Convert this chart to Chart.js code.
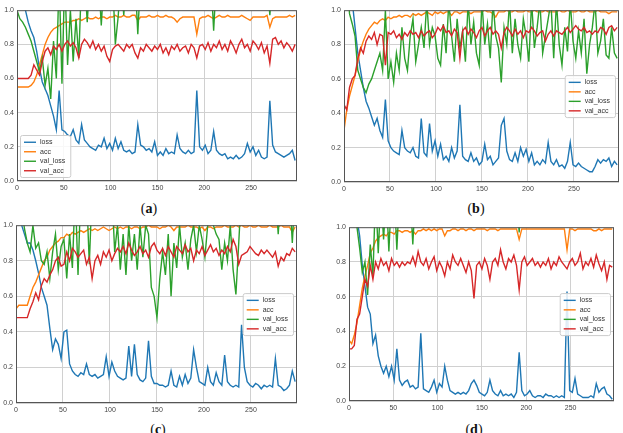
<!DOCTYPE html>
<html>
<head>
<meta charset="utf-8">
<script src="https://cdn.jsdelivr.net/npm/chart.js@4"></script>
<style>
  html, body { margin:0; padding:0; background:#fff; }
  body { width:623px; height:433px; position:relative; overflow:hidden; }
  canvas { position:absolute; }
  .cap { position:absolute; font-family:"Liberation Serif", serif; font-size:14px; color:#111; transform:translate(-50%,-50%); white-space:nowrap; }
</style>
</head>
<body>
<canvas id="pa"></canvas>
<canvas id="pb"></canvas>
<canvas id="pc"></canvas>
<canvas id="pd"></canvas>
<div class="cap" style="left:149px;top:209px">(<b>a</b>)</div>
<div class="cap" style="left:476px;top:209px">(<b>b</b>)</div>
<div class="cap" style="left:158px;top:430px">(<b>c</b>)</div>
<div class="cap" style="left:474px;top:430px">(<b>d</b>)</div>
<script>
// one sample every 3 epochs, 0..297
const EPOCHS = Array.from({ length: 100 }, (_, i) => i * 3)
const SERIES = ['loss', 'acc', 'val_loss', 'val_acc']
const COLORS = ['#1f77b4', '#ff7f0e', '#2ca02c', '#d62728']
const Y_TICKS = [0, 0.2, 0.4, 0.6, 0.8, 1.0]
const X_TICKS = [0, 50, 100, 150, 200, 250]

// (a)
const A_LOSS = [1.1, 1.08, 1.05, 1.0, 0.93, 0.88, 0.84, 0.76, 0.66, 0.58,
  0.54, 0.5, 0.44, 0.38, 0.3, 0.53, 0.3, 0.29, 0.27, 0.26,
  0.3, 0.24, 0.22, 0.33, 0.24, 0.22, 0.2, 0.19, 0.18, 0.21,
  0.2, 0.25, 0.19, 0.22, 0.18, 0.25, 0.19, 0.23, 0.18, 0.17,
  0.18, 0.16, 0.17, 0.33, 0.21, 0.2, 0.18, 0.19, 0.17, 0.23,
  0.15, 0.17, 0.15, 0.19, 0.16, 0.17, 0.16, 0.27, 0.19, 0.17,
  0.16, 0.18, 0.16, 0.17, 0.53, 0.2, 0.18, 0.21, 0.16, 0.18,
  0.29, 0.18, 0.16, 0.15, 0.16, 0.13, 0.14, 0.13, 0.15, 0.13,
  0.14, 0.16, 0.22, 0.17, 0.2, 0.15, 0.18, 0.14, 0.13, 0.14,
  0.47, 0.21, 0.17, 0.16, 0.15, 0.14, 0.15, 0.16, 0.18, 0.12]
const A_ACC = [0.55, 0.55, 0.55, 0.55, 0.55, 0.56, 0.58, 0.62, 0.68, 0.74,
  0.8, 0.84, 0.87, 0.89, 0.9, 0.91, 0.92, 0.93, 0.93, 0.93,
  0.94, 0.94, 0.95, 0.94, 0.95, 0.96, 0.95, 0.95, 0.96, 0.95,
  0.96, 0.96, 0.95, 0.96, 0.96, 0.97, 0.96, 0.96, 0.97, 0.96,
  0.96, 0.97, 0.97, 0.94, 0.96, 0.96, 0.96, 0.97, 0.96, 0.96,
  0.97, 0.96, 0.96, 0.97, 0.96, 0.96, 0.95, 0.93, 0.95, 0.96,
  0.96, 0.96, 0.96, 0.96, 0.86, 0.95, 0.96, 0.96, 0.97, 0.96,
  0.95, 0.96, 0.97, 0.96, 0.96, 0.97, 0.96, 0.96, 0.96, 0.96,
  0.97, 0.96, 0.95, 0.94, 0.96, 0.96, 0.96, 0.96, 0.96, 0.97,
  0.9, 0.95, 0.96, 0.96, 0.96, 0.96, 0.96, 0.97, 0.96, 0.97]
const A_VAL_LOSS = [1.0, 0.95, 0.93, 0.9, 0.86, 0.82, 0.76, 0.7, 0.64, 0.72,
  0.56, 0.66, 0.48, 0.82, 0.6, 1.2, 0.57, 1.2, 0.68, 1.0,
  0.7, 0.95, 0.72, 1.2, 1.2, 0.93, 1.2, 1.2, 1.2, 1.2,
  0.91, 1.2, 1.2, 1.2, 1.2, 0.8, 0.96, 1.2, 0.97, 1.2,
  1.2, 1.2, 1.2, 0.86, 1.2, 1.2, 1.2, 1.2, 1.2, 1.2,
  1.2, 1.2, 1.2, 1.2, 1.2, 1.2, 1.2, 1.2, 1.2, 1.2,
  1.2, 1.2, 1.2, 1.2, 1.2, 1.2, 1.2, 1.2, 1.2, 1.2,
  0.88, 1.2, 1.2, 1.2, 1.2, 1.2, 1.2, 1.2, 1.2, 1.2,
  1.2, 1.2, 1.2, 1.2, 1.2, 1.2, 1.2, 1.2, 1.2, 1.2,
  0.97, 1.2, 1.2, 1.2, 1.2, 1.2, 1.2, 1.2, 1.2, 1.2]
const A_VAL_ACC = [0.6, 0.6, 0.6, 0.6, 0.6, 0.62, 0.68, 0.65, 0.62, 0.7,
  0.76, 0.78, 0.74, 0.79, 0.77, 0.8, 0.76, 0.8, 0.82, 0.79,
  0.81, 0.78, 0.72, 0.8, 0.83, 0.81, 0.78, 0.82, 0.77, 0.8,
  0.76, 0.79, 0.73, 0.7, 0.77, 0.79, 0.8, 0.78, 0.76, 0.8,
  0.78, 0.8, 0.75, 0.72, 0.78, 0.76, 0.8, 0.78, 0.76, 0.79,
  0.77, 0.8, 0.75, 0.78, 0.74, 0.79, 0.77, 0.8, 0.76, 0.78,
  0.79, 0.75, 0.8, 0.78, 0.72, 0.79, 0.8, 0.77, 0.81, 0.76,
  0.8, 0.78, 0.82, 0.77, 0.8, 0.76, 0.82, 0.79, 0.75, 0.8,
  0.83, 0.78, 0.8, 0.76, 0.82, 0.8, 0.77, 0.81, 0.75, 0.79,
  0.69, 0.83, 0.84, 0.8, 0.82, 0.78, 0.81, 0.79, 0.76, 0.8]

// (b)
const B_LOSS = [1.2, 1.2, 1.2, 1.05, 0.9, 0.75, 0.65, 0.55, 0.47, 0.43,
  0.38, 0.33, 0.37, 0.3, 0.26, 0.48, 0.24, 0.2, 0.18, 0.17,
  0.16, 0.3, 0.2, 0.18, 0.17, 0.2, 0.15, 0.14, 0.37, 0.17,
  0.15, 0.34, 0.18, 0.24, 0.15, 0.22, 0.13, 0.15, 0.12, 0.2,
  0.14, 0.18, 0.45, 0.15, 0.13, 0.12, 0.17, 0.12, 0.14, 0.1,
  0.12, 0.22, 0.13, 0.15, 0.1, 0.12, 0.14, 0.33, 0.37, 0.18,
  0.13, 0.12, 0.17, 0.12, 0.2, 0.15, 0.19, 0.12, 0.17, 0.1,
  0.12, 0.1, 0.13, 0.11, 0.23, 0.12, 0.1, 0.13, 0.09, 0.1,
  0.08, 0.12, 0.23, 0.1, 0.09, 0.11, 0.09, 0.08, 0.07, 0.06,
  0.06, 0.09, 0.13, 0.11, 0.13, 0.12, 0.14, 0.09, 0.12, 0.1]
const B_ACC = [0.3, 0.42, 0.5, 0.56, 0.62, 0.7, 0.77, 0.82, 0.86, 0.89,
  0.91, 0.93, 0.92, 0.94, 0.95, 0.94, 0.96, 0.95, 0.96, 0.96,
  0.97, 0.96, 0.97, 0.97, 0.96, 0.98, 0.97, 0.98, 0.97, 0.98,
  0.99, 0.98, 0.97, 0.99, 0.98, 0.99, 0.98, 0.99, 0.99, 0.97,
  0.99, 0.99, 0.98, 0.99, 0.99, 0.99, 0.98, 0.99, 0.99, 0.99,
  0.99, 1.0, 0.99, 0.99, 0.98, 0.96, 0.99, 0.99, 0.99, 1.0,
  0.99, 0.99, 1.0, 0.99, 0.99, 0.99, 1.0, 0.99, 0.99, 1.0,
  0.99, 0.99, 0.99, 1.0, 0.99, 0.99, 0.99, 0.99, 1.0, 0.99,
  0.99, 1.0, 0.99, 0.99, 0.99, 1.0, 0.99, 0.99, 1.0, 0.99,
  0.99, 0.99, 1.0, 0.99, 0.99, 0.99, 0.98, 0.99, 0.99, 0.99]
const B_VAL_LOSS = [1.2, 1.2, 0.98, 0.92, 0.85, 0.65, 0.6, 0.55, 0.52, 0.57,
  0.6, 0.65, 0.7, 0.75, 0.65, 1.0, 0.6, 0.7, 0.58, 0.75,
  0.65, 0.9, 0.72, 0.65, 0.85, 0.95, 0.7, 0.8, 0.9, 0.78,
  1.05, 0.8, 0.9, 0.85, 0.72, 0.68, 0.92, 0.75, 1.05, 0.85,
  0.7, 0.95, 0.78, 0.88, 0.7, 1.05, 0.8, 0.93, 0.75, 0.68,
  1.05, 0.8, 0.92, 0.72, 1.05, 0.85, 0.78, 0.58, 0.9, 0.8,
  1.05, 0.75, 0.95, 0.8, 0.72, 0.95, 0.85, 0.7, 1.05, 0.78,
  0.9, 1.05, 0.75, 0.85, 0.95, 1.05, 0.72, 1.05, 0.8, 0.68,
  0.9, 0.76, 1.05, 0.82, 0.72, 0.88, 0.75, 0.95, 0.63, 0.8,
  0.9, 1.05, 0.75, 0.82, 0.95, 0.74, 0.72, 0.9, 0.75, 0.72]
const B_VAL_ACC = [0.45, 0.42, 0.55, 0.6, 0.62, 0.72, 0.78, 0.75, 0.82, 0.85,
  0.83, 0.87, 0.8, 0.86, 0.85, 0.68, 0.87, 0.86, 0.88, 0.84,
  0.86, 0.83, 0.87, 0.85, 0.88, 0.86, 0.87, 0.84, 0.88, 0.85,
  0.87, 0.88, 0.84, 0.86, 0.9, 0.88, 0.91, 0.87, 0.88, 0.85,
  0.89, 0.87, 0.72, 0.88, 0.9, 0.86, 0.89, 0.87, 0.84, 0.88,
  0.9, 0.85, 0.88, 0.9, 0.86, 0.88, 0.86, 0.78, 0.87, 0.9,
  0.88, 0.85, 0.89, 0.86, 0.88, 0.84, 0.88, 0.87, 0.9, 0.88,
  0.85, 0.87, 0.88, 0.82, 0.86, 0.88, 0.85, 0.88, 0.87, 0.86,
  0.88, 0.9, 0.87, 0.89, 0.91, 0.89, 0.88, 0.9, 0.87, 0.88,
  0.86, 0.88, 0.87, 0.9, 0.89, 0.86, 0.9, 0.91, 0.88, 0.9]

// (c)
const C_LOSS = [1.2, 1.1, 1.0, 0.95, 0.9, 0.9, 0.86, 0.8, 0.73, 0.65,
  0.6, 0.55, 0.42, 0.3, 0.36, 0.33, 0.25, 0.4, 0.41, 0.22,
  0.18, 0.16, 0.15, 0.17, 0.16, 0.22, 0.16, 0.15, 0.16, 0.14,
  0.15, 0.16, 0.26, 0.15, 0.23, 0.18, 0.15, 0.14, 0.13, 0.14,
  0.32, 0.15, 0.33, 0.16, 0.13, 0.12, 0.14, 0.35, 0.15, 0.11,
  0.11, 0.1, 0.1, 0.09, 0.1, 0.18, 0.1, 0.09, 0.15, 0.1,
  0.16, 0.11, 0.14, 0.3, 0.2, 0.12, 0.11, 0.1, 0.2, 0.12,
  0.1, 0.17, 0.12, 0.1, 0.27, 0.12, 0.1, 0.09, 0.1, 0.09,
  0.44, 0.2, 0.12, 0.1, 0.09, 0.11, 0.1, 0.08, 0.1, 0.09,
  0.1, 0.09, 0.25, 0.1, 0.09, 0.07, 0.08, 0.1, 0.18, 0.12]
const C_ACC = [0.53, 0.55, 0.55, 0.55, 0.55, 0.6, 0.65, 0.68, 0.72, 0.76,
  0.8, 0.82, 0.86, 0.88, 0.9, 0.91, 0.93, 0.93, 0.95, 0.94,
  0.96, 0.95, 0.96, 0.97, 0.96, 0.97, 0.98, 0.97, 0.98, 0.97,
  0.98, 0.99, 0.98, 0.97, 0.98, 0.99, 0.98, 0.99, 0.98, 0.99,
  0.99, 0.98, 0.99, 0.99, 0.98, 0.99, 0.99, 1.0, 0.99, 0.99,
  0.99, 0.98, 0.99, 0.99, 1.0, 0.99, 0.97, 0.99, 0.99, 0.99,
  0.99, 1.0, 0.99, 0.99, 0.99, 0.98, 0.99, 0.97, 0.99, 0.99,
  0.98, 0.99, 0.99, 0.99, 1.0, 0.99, 0.99, 0.99, 1.0, 0.99,
  1.0, 0.99, 0.99, 1.0, 0.99, 0.99, 1.0, 0.99, 0.99, 0.99,
  1.0, 0.99, 0.99, 0.99, 1.0, 0.99, 0.99, 0.99, 0.96, 0.99]
const C_VAL_LOSS = [1.2, 1.2, 1.1, 0.98, 0.9, 0.85, 1.0, 0.87, 0.9, 0.8,
  0.78, 0.85, 0.7, 0.85, 0.95, 0.75, 0.88, 0.92, 0.7, 0.95,
  0.76, 1.2, 0.72, 1.2, 1.0, 1.2, 0.78, 1.2, 1.2, 1.2,
  1.2, 1.2, 1.2, 1.2, 1.2, 0.85, 1.0, 0.75, 0.95, 0.72,
  1.0, 0.8, 0.95, 0.75, 1.0, 0.82, 1.0, 0.95, 0.65, 0.6,
  0.48, 0.7, 0.85, 0.72, 0.95, 0.6, 0.9, 0.76, 1.0, 0.82,
  0.9, 0.75, 0.92, 1.0, 0.85, 1.0, 0.92, 0.82, 1.0, 1.2,
  1.0, 0.95, 0.92, 0.75, 0.9, 0.8, 1.0, 0.75, 0.61, 0.9,
  1.2, 1.2, 1.2, 1.2, 1.2, 1.2, 1.2, 1.2, 1.2, 1.2,
  1.2, 1.2, 1.2, 0.95, 1.2, 1.2, 1.2, 1.2, 0.9, 1.2]
const C_VAL_ACC = [0.48, 0.48, 0.48, 0.48, 0.48, 0.53, 0.57, 0.62, 0.58, 0.66,
  0.7, 0.68, 0.72, 0.75, 0.8, 0.82, 0.77, 0.78, 0.85, 0.8,
  0.87, 0.85, 0.82, 0.84, 0.86, 0.78, 0.82, 0.7, 0.8, 0.83,
  0.78, 0.85, 0.82, 0.86, 0.8, 0.84, 0.87, 0.85, 0.88, 0.84,
  0.9, 0.86, 0.83, 0.85, 0.88, 0.84, 0.86, 0.82, 0.88, 0.9,
  0.86, 0.84, 0.87, 0.83, 0.88, 0.85, 0.82, 0.88, 0.86, 0.84,
  0.89, 0.85, 0.87, 0.8, 0.86, 0.84, 0.88, 0.83, 0.86, 0.89,
  0.85, 0.87, 0.83, 0.86, 0.84, 0.88, 0.85, 0.92, 0.88, 0.78,
  0.83, 0.84, 0.85, 0.88, 0.86, 0.84, 0.83, 0.86, 0.84, 0.86,
  0.84, 0.82, 0.85, 0.77, 0.82, 0.8, 0.84, 0.83, 0.87, 0.85]

// (d)
const D_LOSS = [1.2, 1.2, 1.2, 1.05, 0.95, 0.78, 0.66, 0.54, 0.5, 0.33,
  0.38, 0.26, 0.2, 0.16, 0.2, 0.14, 0.2, 0.12, 0.3, 0.12,
  0.09, 0.11, 0.12, 0.08, 0.09, 0.07, 0.08, 0.39, 0.07, 0.06,
  0.05, 0.08, 0.12, 0.05, 0.1, 0.08, 0.2, 0.12, 0.06, 0.05,
  0.04, 0.05, 0.04, 0.05, 0.04, 0.06, 0.1, 0.12, 0.09, 0.05,
  0.04, 0.03, 0.05, 0.12, 0.06, 0.04, 0.03, 0.06, 0.03, 0.04,
  0.03, 0.04, 0.02, 0.05, 0.28, 0.06, 0.03, 0.04, 0.06, 0.03,
  0.02, 0.03, 0.03, 0.02, 0.04, 0.03, 0.03, 0.02, 0.03, 0.02,
  0.03, 0.02, 0.63, 0.06, 0.05, 0.13, 0.04, 0.03, 0.02, 0.02,
  0.02, 0.03, 0.02, 0.1, 0.05, 0.07, 0.08, 0.04, 0.03, 0.01]
const D_ACC = [0.35, 0.33, 0.38, 0.45, 0.55, 0.65, 0.72, 0.78, 0.85, 0.88,
  0.92, 0.94, 0.95, 0.96, 0.95, 0.97, 0.97, 0.96, 0.98, 0.98,
  0.97, 0.98, 0.98, 0.97, 0.98, 0.96, 0.98, 0.98, 0.99, 0.98,
  0.99, 0.98, 0.99, 0.98, 0.99, 0.99, 0.95, 0.98, 0.98, 0.99,
  0.99, 0.98, 0.99, 0.99, 0.98, 0.99, 0.99, 0.98, 0.99, 0.99,
  0.99, 0.99, 0.98, 0.99, 0.99, 0.99, 0.98, 0.99, 0.99, 0.99,
  0.99, 0.99, 0.99, 0.99, 0.93, 0.99, 0.99, 0.99, 0.99, 0.99,
  0.99, 0.99, 0.99, 0.99, 0.99, 0.99, 0.99, 0.99, 0.99, 0.99,
  0.99, 0.99, 0.87, 0.99, 0.99, 0.98, 0.99, 0.99, 0.99, 0.99,
  0.99, 0.99, 0.98, 0.98, 0.99, 0.98, 0.99, 0.99, 0.99, 0.99]
const D_VAL_LOSS = [1.2, 1.2, 1.2, 1.0, 0.88, 0.74, 0.8, 0.61, 0.9, 0.72,
  1.2, 0.85, 1.2, 0.93, 1.2, 0.86, 1.2, 1.2, 0.87, 1.2,
  1.2, 1.2, 1.2, 1.2, 0.9, 1.2, 1.2, 1.2, 1.2, 1.2,
  1.2, 1.2, 1.2, 1.2, 1.2, 1.2, 1.2, 1.2, 1.2, 1.2,
  1.2, 1.2, 1.2, 1.2, 1.2, 1.2, 1.2, 1.2, 1.2, 1.2,
  1.2, 1.2, 1.2, 1.2, 1.2, 1.2, 1.2, 1.2, 1.2, 1.2,
  1.2, 1.2, 1.2, 1.2, 0.97, 1.2, 1.2, 1.2, 1.2, 1.2,
  1.2, 1.2, 1.2, 1.2, 1.2, 1.2, 1.2, 1.2, 1.2, 1.2,
  1.2, 1.2, 1.2, 1.2, 1.2, 1.2, 1.2, 1.2, 1.2, 1.2,
  1.2, 1.2, 1.2, 1.2, 1.2, 1.2, 1.2, 1.2, 1.2, 1.2]
const D_VAL_ACC = [0.3, 0.3, 0.32, 0.47, 0.5, 0.6, 0.7, 0.66, 0.78, 0.7,
  0.8, 0.76, 0.82, 0.78, 0.8, 0.75, 0.82, 0.78, 0.8, 0.77,
  0.8, 0.78, 0.8, 0.79, 0.83, 0.78, 0.86, 0.8, 0.78, 0.82,
  0.76, 0.8, 0.83, 0.75, 0.8, 0.77, 0.72, 0.8, 0.76, 0.84,
  0.8, 0.78, 0.82, 0.78, 0.74, 0.8, 0.75, 0.59, 0.78, 0.8,
  0.76, 0.82, 0.78, 0.7, 0.8, 0.82, 0.78, 0.87, 0.8, 0.76,
  0.82, 0.8, 0.84, 0.78, 0.64, 0.8, 0.83, 0.78, 0.8, 0.82,
  0.78, 0.8, 0.77, 0.8, 0.78, 0.82, 0.76, 0.8, 0.78, 0.83,
  0.8, 0.78, 0.76, 0.8, 0.82, 0.78, 0.8, 0.85, 0.76, 0.8,
  0.78, 0.82, 0.77, 0.84, 0.79, 0.75, 0.8, 0.7, 0.78, 0.77]

// space around the plot area inside each canvas
const YW = 16, PT = 6, PR = 4, XH = 14
const FONT = { family: "'Liberation Sans', Arial, sans-serif", size: 7 }

// matplotlib-like frame + legend box
const frameLegend = {
  id: 'frameLegend',
  afterDraw(chart, args, opts) {
    const { ctx, chartArea: a } = chart
    ctx.save()
    ctx.strokeStyle = '#555'
    ctx.lineWidth = 1
    ctx.strokeRect(a.left + 0.5, a.top + 0.5, a.right - a.left - 1, a.bottom - a.top - 1)

    ctx.font = `${FONT.size}px ${FONT.family}`
    const tw = Math.max(...SERIES.map(s => ctx.measureText(s).width))
    const w = 4 + 12 + 4 + tw + 5, rowH = 9.5, h = 4 * rowH + 4
    let x, y
    if (opts.loc === 'lower left') { x = a.left + 3; y = a.bottom - 4 - h }
    else { x = a.right - 4 - w; y = (a.top + a.bottom) / 2 - h / 2 }
    ctx.fillStyle = 'rgba(255,255,255,0.85)'
    ctx.strokeStyle = '#cccccc'
    ctx.beginPath()
    ctx.roundRect(x + 0.5, y + 0.5, w, h, 2)
    ctx.fill(); ctx.stroke()
    ctx.textBaseline = 'middle'
    SERIES.forEach((s, k) => {
      const cy = y + 2 + rowH * k + rowH / 2 + 0.5
      ctx.strokeStyle = COLORS[k]
      ctx.lineWidth = 1.4
      ctx.beginPath(); ctx.moveTo(x + 4, cy); ctx.lineTo(x + 16, cy); ctx.stroke()
      ctx.fillStyle = '#333'
      ctx.fillText(s, x + 20, cy)
    })
    ctx.restore()
  }
}

function makePanel(id, area, series, loc) {
  const cv = document.getElementById(id)
  const W = area.r - area.l + YW + PR
  const H = area.b - area.t + PT + XH
  cv.width = W; cv.height = H
  cv.style.left = (area.l - YW) + 'px'
  cv.style.top = (area.t - PT) + 'px'
  cv.style.width = W + 'px'; cv.style.height = H + 'px'

  const datasets = series.map((vals, k) => ({
    label: SERIES[k],
    data: vals.map((v, i) => ({ x: EPOCHS[i], y: v })),
    borderColor: COLORS[k],
    borderWidth: 1.4,
    pointRadius: 0,
    tension: 0,
    fill: false,
    order: 3 - k,
  }))

  new Chart(cv, {
    type: 'line',
    data: { datasets },
    plugins: [frameLegend],
    options: {
      responsive: false,
      devicePixelRatio: 1,
      animation: false,
      layout: { padding: { top: PT, right: PR, left: 0, bottom: 0 } },
      plugins: { legend: { display: false }, tooltip: { enabled: false }, frameLegend: { loc } },
      scales: {
        x: {
          type: 'linear', min: 0, max: 299,
          afterBuildTicks: s => { s.ticks = X_TICKS.map(v => ({ value: v })) },
          afterFit: s => { s.height = XH },
          ticks: { font: FONT, color: '#444', padding: 3, maxRotation: 0 },
          grid: { color: '#d0d0d0', lineWidth: 1, drawTicks: false },
          border: { display: false },
        },
        y: {
          type: 'linear', min: 0, max: 1,
          afterBuildTicks: s => { s.ticks = Y_TICKS.map(v => ({ value: v })) },
          afterFit: s => { s.width = YW },
          ticks: { font: FONT, color: '#444', padding: 3, callback: v => v.toFixed(1) },
          grid: { color: '#d0d0d0', lineWidth: 1, drawTicks: false },
          border: { display: false },
        },
      },
    },
  })
}

makePanel('pa', { l: 17, t: 9, r: 297, b: 181 }, [A_LOSS, A_ACC, A_VAL_LOSS, A_VAL_ACC], 'lower left')
makePanel('pb', { l: 344, t: 9, r: 619, b: 182 }, [B_LOSS, B_ACC, B_VAL_LOSS, B_VAL_ACC], 'center right')
makePanel('pc', { l: 16, t: 224, r: 297, b: 403 }, [C_LOSS, C_ACC, C_VAL_LOSS, C_VAL_ACC], 'center right')
makePanel('pd', { l: 349, t: 226, r: 614, b: 401 }, [D_LOSS, D_ACC, D_VAL_LOSS, D_VAL_ACC], 'center right')
</script>
</body>
</html>
